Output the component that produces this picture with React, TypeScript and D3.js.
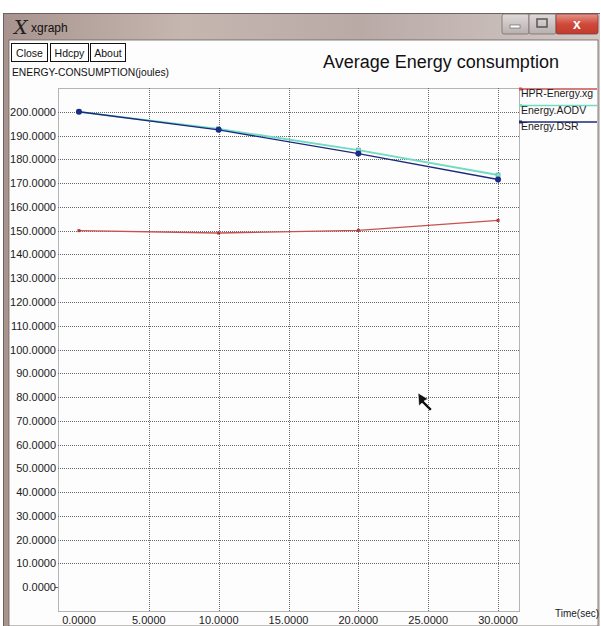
import React from "react";
import * as d3 from "d3";

const times = [0, 10, 20, 30];
const hprEnergy = [150.0, 149.0, 150.1, 154.3];
const aodvEnergy = [200.0, 192.8, 183.9, 173.4];
const dsrEnergy = [200.0, 192.4, 182.4, 171.5];
const seriesNames = ["HPR-Energy.xg", "Energy.AODV", "Energy.DSR"];
const seriesColors = ["#c85050", "#6fdcc4", "#1c2a7c"];
const xTicks = [0, 5, 10, 15, 20, 25, 30];
const yTicks = [0, 10, 20, 30, 40, 50, 60, 70, 80, 90, 100, 110, 120, 130, 140, 150, 160, 170, 180, 190, 200];
const buttons = ["Close", "Hdcpy", "About"];

const W = 601;
const H = 626;
const plot = { left: 58, right: 519, top: 88, bottom: 611 };

export default function App() {
  const x = d3.scaleLinear().domain([-1.5, 31.5]).range([plot.left, plot.right]);
  const y = d3.scaleLinear().domain([-10, 210]).range([plot.bottom, plot.top]);
  const line = d3
    .line<[number, number]>()
    .x((d) => x(d[0]))
    .y((d) => y(d[1]));
  const all = [hprEnergy, aodvEnergy, dsrEnergy];
  const font = "'Liberation Sans', Arial, sans-serif";
  const btnX = [11, 50, 90];
  const btnW = [36, 38, 35];
  const legendY = [89, 105.5, 122];

  return (
    <svg
      width={W}
      height={H}
      style={{ position: "fixed", left: 0, top: 0, display: "block", background: "#fff" }}
      fontFamily={font}
    >
      <defs>
        <linearGradient id="tb" x1="0" x2="1" y1="0" y2="0">
          <stop offset="0" stopColor="#a8948e" />
          <stop offset="0.3" stopColor="#c6b6b0" />
          <stop offset="0.6" stopColor="#b9aaa6" />
          <stop offset="1" stopColor="#d2c8c6" />
        </linearGradient>
        <linearGradient id="cl" x1="0" x2="0" y1="0" y2="1">
          <stop offset="0" stopColor="#e6968a" />
          <stop offset="0.5" stopColor="#cf4a3a" />
          <stop offset="1" stopColor="#c23a2c" />
        </linearGradient>
        <linearGradient id="mm" x1="0" x2="0" y1="0" y2="1">
          <stop offset="0" stopColor="#e0dad8" />
          <stop offset="1" stopColor="#b8b0ae" />
        </linearGradient>
      </defs>
      {/* window frame */}
      <rect x={0} y={0} width={W} height={H} fill="#ffffff" />
      <rect x={3} y={13} width={597} height={H - 13} fill="url(#tb)" />
      <rect x={3} y={13} width={597} height={1} fill="#6e6260" />
      <rect x={3} y={13} width={1} height={H} fill="#6e6260" />
      <rect x={9} y={40} width={589} height={H - 40} fill="#fefdfe" stroke="#6a6060" strokeWidth={0.8} />
      {/* title bar */}
      <text x={14} y={34} fontSize={19} fill="#222" fontFamily="'DejaVu Serif', serif" fontStyle="italic">X</text>
      <text x={31} y={32} fontSize={12} fill="#111" fontFamily="'Liberation Sans', Arial, sans-serif">xgraph</text>
      <rect x={502} y={14} width={27} height={20} rx={2} fill="url(#mm)" stroke="#7a7070" strokeWidth={0.8} />
      <rect x={529} y={14} width={27} height={20} rx={2} fill="url(#mm)" stroke="#7a7070" strokeWidth={0.8} />
      <rect x={510} y={25} width={10} height={3} fill="#fff" stroke="#555" strokeWidth={0.6} />
      <rect x={537} y={19} width={10} height={8} fill="none" stroke="#555" strokeWidth={1.5} />
      <rect x={556} y={14} width={42} height={20} rx={2} fill="url(#cl)" stroke="#7a4040" strokeWidth={0.8} />
      <text x={577} y={29} fontSize={14} fontWeight="bold" fill="#fff" textAnchor="middle">x</text>

      {/* buttons */}
      {buttons.map((b, i) => (
        <g key={b}>
          <rect x={btnX[i] + 0.5} y={43.5} width={btnW[i]} height={18} fill="#fff" stroke="#111" strokeWidth={1} />
          <text x={btnX[i] + btnW[i] / 2 + 0.5} y={57} fontSize={10.5} textAnchor="middle" fill="#111">
            {b}
          </text>
        </g>
      ))}
      <text x={12} y={76} fontSize={10.3} fill="#111">ENERGY-CONSUMPTION(joules)</text>
      <text x={441} y={68} fontSize={18} textAnchor="middle" fill="#111">Average Energy consumption</text>

      {/* grid */}
      <g stroke="#6a6a6a" strokeWidth={1} strokeDasharray="1,1">
        {yTicks
          .filter((t) => t !== 0)
          .map((t) => (
            <line key={"gy" + t} x1={plot.left} x2={plot.right} y1={Math.round(y(t)) + 0.5} y2={Math.round(y(t)) + 0.5} />
          ))}
        {xTicks
          .filter((t) => t !== 0)
          .map((t) => (
            <line key={"gx" + t} x1={Math.round(x(t)) + 0.5} x2={Math.round(x(t)) + 0.5} y1={plot.top} y2={plot.bottom} />
          ))}
        <rect
          x={plot.left + 0.5}
          y={plot.top + 0.5}
          width={plot.right - plot.left}
          height={plot.bottom - plot.top}
          fill="none"
        />
      </g>
      <line x1={plot.left - 3} x2={plot.left} y1={Math.round(y(0)) + 0.5} y2={Math.round(y(0)) + 0.5} stroke="#555" />

      {/* tick labels */}
      {yTicks.map((t) => (
        <text key={"ly" + t} x={56} y={y(t) + 4} fontSize={11} textAnchor="end" fill="#1a1a1a">
          {t.toFixed(4)}
        </text>
      ))}
      {xTicks.map((t) => (
        <text key={"lx" + t} x={x(t)} y={624} fontSize={11} textAnchor="middle" fill="#1a1a1a">
          {t.toFixed(4)}
        </text>
      ))}
      <text x={555} y={617} fontSize={10} fill="#1a1a1a">Time(sec)</text>

      {/* series */}
      {all.map((vals, i) => (
        <path
          key={"s" + i}
          d={line(times.map((t, j) => [t, vals[j]]) as [number, number][]) || ""}
          fill="none"
          stroke={seriesColors[i]}
          strokeWidth={i === 1 ? 1.8 : 1.4}
        />
      ))}
      {hprEnergy.map((v, j) => (
        <rect key={"m0" + j} x={x(times[j]) - 1.5} y={y(v) - 1.5} width={3} height={3} fill="#b03838" />
      ))}
      {aodvEnergy.map((v, j) => (
        <rect key={"m1" + j} x={x(times[j]) - 2} y={y(v) - 2} width={4} height={4} fill="#8ee0d0" stroke="#3fae98" strokeWidth={0.6} />
      ))}
      {dsrEnergy.map((v, j) => (
        <circle key={"m2" + j} cx={x(times[j])} cy={y(v)} r={3} fill="#1c2a8a" />
      ))}

      {/* legend */}
      {seriesNames.map((n, i) => (
        <g key={"lg" + i}>
          <line x1={520} x2={597} y1={legendY[i]} y2={legendY[i]} stroke={seriesColors[i]} strokeWidth={1.3} />
          <rect x={519} y={legendY[i] - 1.5} width={3} height={3} fill={seriesColors[i]} />
          <text x={521} y={legendY[i] + 8} fontSize={10.5} fill="#1a1a1a">
            {n}
          </text>
        </g>
      ))}

      {/* mouse cursor */}
      <path d="M418,393 L419,406 L422,403 L430,411 L432,409 L424,401 L428,399 Z" fill="#111" stroke="#fff" strokeWidth={0.6} />
    </svg>
  );
}
